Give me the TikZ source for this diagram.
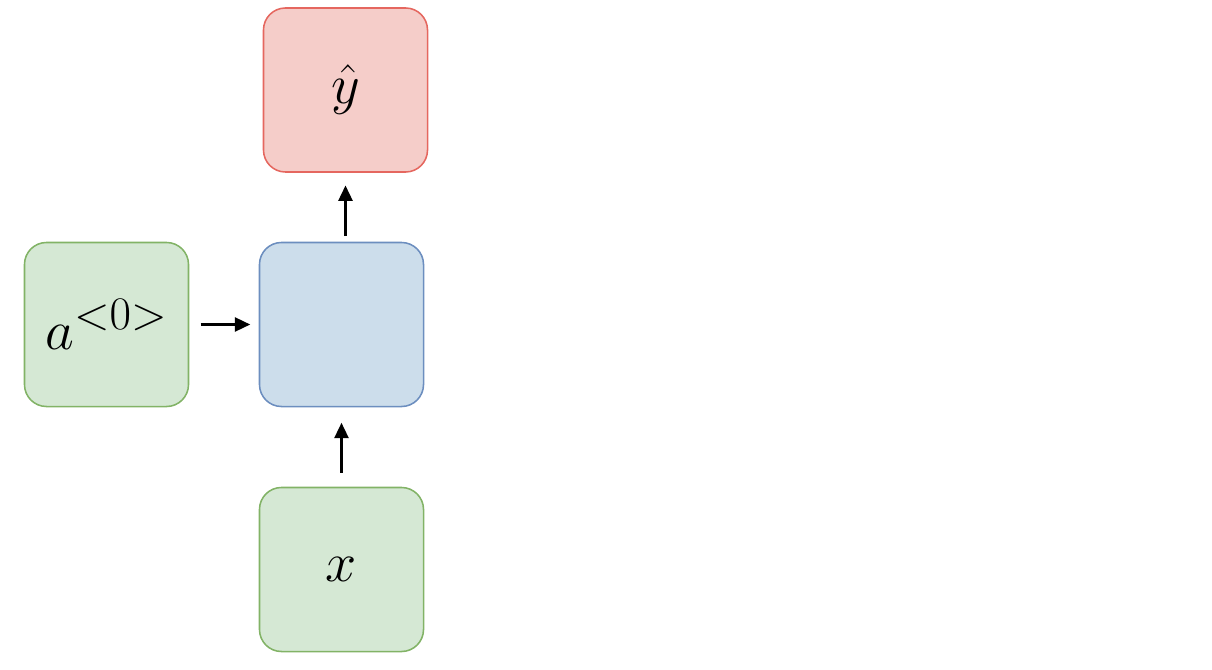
\documentclass[tikz,border=0pt]{standalone}
\usepackage{graphicx}
\usetikzlibrary{arrows.meta}

\definecolor{greenfill}{HTML}{D5E8D4}
\definecolor{greenline}{HTML}{82B366}
\definecolor{bluefill}{HTML}{CCDDEB}
\definecolor{blueline}{HTML}{6C8EBF}
\definecolor{redfill}{HTML}{F5CDC9}
\definecolor{redline}{HTML}{E5675F}

\newcommand{\cellmath}[1]{\scalebox{1.6}{\Huge$#1$}}

\begin{document}
\begin{tikzpicture}[
  x=0.025cm, y=-0.025cm,
  every node/.style={inner sep=0pt},
  cell/.style={rounded corners=0.55cm, minimum size=4.1cm, line width=1.1pt},
  inbox/.style={cell, draw=greenline, fill=greenfill},
  hidbox/.style={cell, draw=blueline, fill=bluefill},
  outbox/.style={cell, draw=redline, fill=redfill},
  arr/.style={draw, line width=1.8pt, -{Triangle[length=11pt,width=10pt]}}]

  \useasboundingbox (0,0) rectangle (1212,670);

  % ---- cells ----------------------------------------------------------------
  \node[inbox]  (A0) at (106.5,324.5) {\cellmath{a^{<0>}}};
  \node[hidbox] (H)  at (341.5,324.5) {};
  \node[outbox] (Y)  at (345.5,90)    {\cellmath{\hat{y}}};
  \node[inbox]  (X)  at (341.5,569.5) {\cellmath{x}};

  % ---- connectors -----------------------------------------------------------
  \draw[arr, shorten <=8pt, shorten >=6pt] (A0) -- (H);
  \draw[arr, shorten <=10pt, shorten >=11pt] (X) -- (H);
  \draw[arr, shorten <=4pt, shorten >=9pt] (H.north -| Y.south) -- (Y.south);
\end{tikzpicture}
\end{document}
